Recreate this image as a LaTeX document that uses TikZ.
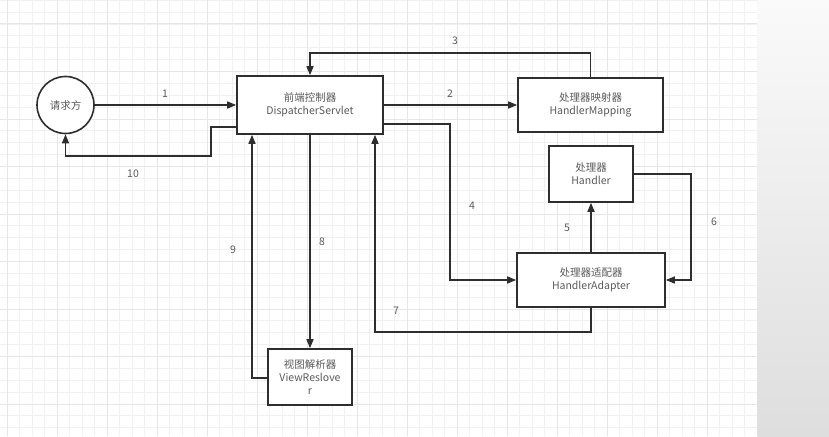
\documentclass[tikz,border=0pt]{standalone}
\usepackage{fontspec}
\setmainfont{Noto Sans CJK SC}
\usetikzlibrary{arrows.meta,calc}
\definecolor{linec}{HTML}{2E2E2E}
\definecolor{textc}{HTML}{5A5A5A}
\definecolor{gridminor}{HTML}{F1F1F1}
\definecolor{gridmajor}{HTML}{E6E6E6}
\definecolor{striptop}{HTML}{FAFAFA}
\definecolor{stripbot}{HTML}{DEDEDE}
\tikzset{
  box/.style={draw=linec, line width=1.6pt, fill=white, inner sep=0pt, align=center,
    text=textc, font=\fontsize{10.5}{13}\selectfont},
  conn/.style={draw=linec, line width=1.5pt},
  arr/.style={conn, -{Triangle[length=9pt,width=7pt]}},
  lbl/.style={text=textc, font=\fontsize{10.5}{13}\selectfont, inner sep=0pt},
}
\begin{document}
\begin{tikzpicture}[x=1pt,y=-1pt]
\useasboundingbox (0,0) rectangle (829,436);
\fill[white] (0,0) rectangle (829,436);
% grid
\begin{scope}
\clip (0,0) rectangle (757.7,436);
\foreach \k in {0,...,60} \draw[gridminor, line width=0.9pt] ({7.3+12.5*\k},0) -- ({7.3+12.5*\k},436);
\foreach \k in {0,...,36} \draw[gridminor, line width=0.9pt] (0,{0.25+11.875*\k}) -- (757.7,{0.25+11.875*\k});
\foreach \k in {0,4,...,60} \draw[gridmajor, line width=1pt] ({7.3+12.5*\k},0) -- ({7.3+12.5*\k},436);
\foreach \k in {2,6,...,34} \draw[gridmajor, line width=1pt] (0,{0.25+11.875*\k}) -- (757.7,{0.25+11.875*\k});
\end{scope}
% right strip
\shade[top color=striptop, bottom color=stripbot] (757.7,0) rectangle (829,436);

% nodes
\node[box, circle, minimum size=57pt] (c) at (65.5,105) {请求方};
\node[box, minimum width=146pt, minimum height=58pt] (D) at (310,105) {前端控制器\\DispatcherServlet};
\node[box, minimum width=145pt, minimum height=54pt] (HM) at (590.5,105) {处理器映射器\\HandlerMapping};
\node[box, minimum width=84pt, minimum height=56pt] (H) at (591,174) {处理器\\Handler};
\node[box, minimum width=148pt, minimum height=54pt] (HA) at (591,280) {处理器适配器\\HandlerAdapter};
\node[box, minimum width=84pt, minimum height=56pt] (VR) at (310,377) {视图解析器\\ViewReslove\\r};

% connectors
\draw[arr] (c.east) -- (D.west);
\draw[arr] (D.east) -- (HM.west);
\draw[arr] (HM.north) -- ++(0,-24) -| (D.north);
\draw[arr] ([yshift=-19pt]D.east) -- ++(66,0) |- (HA.west);
\draw[arr] (HA.north) -- (H.south);
\draw[arr] (H.east) -- ++(57,0) |- (HA.east);
\draw[arr] (HA.south) -- ++(0,24) -| ([xshift=65pt]D.south);
\draw[arr] (D.south) -- (VR.north);
\draw[arr] ([yshift=-1pt]VR.west) -- ++(-16,0) -| ([xshift=-58pt]D.south);
\draw[arr] ([yshift=-22pt]D.west) -- ++(-25,0) -- ++(0,29) -| (c.south);

% labels
\node[lbl] (l1) at (165,94) {1};
\node[lbl] (l2) at (450,94) {2};
\node[lbl] (l3) at (455,41) {3};
\node[lbl] (l4) at (472,206) {4};
\node[lbl] (l5) at (567,228) {5};
\node[lbl] (l6) at (714,222) {6};
\node[lbl] (l7) at (396,311) {7};
\node[lbl] (l8) at (322,242) {8};
\node[lbl] (l9) at (233,250) {9};
\node[lbl] (l10) at (133,174) {10};
\end{tikzpicture}
\end{document}
